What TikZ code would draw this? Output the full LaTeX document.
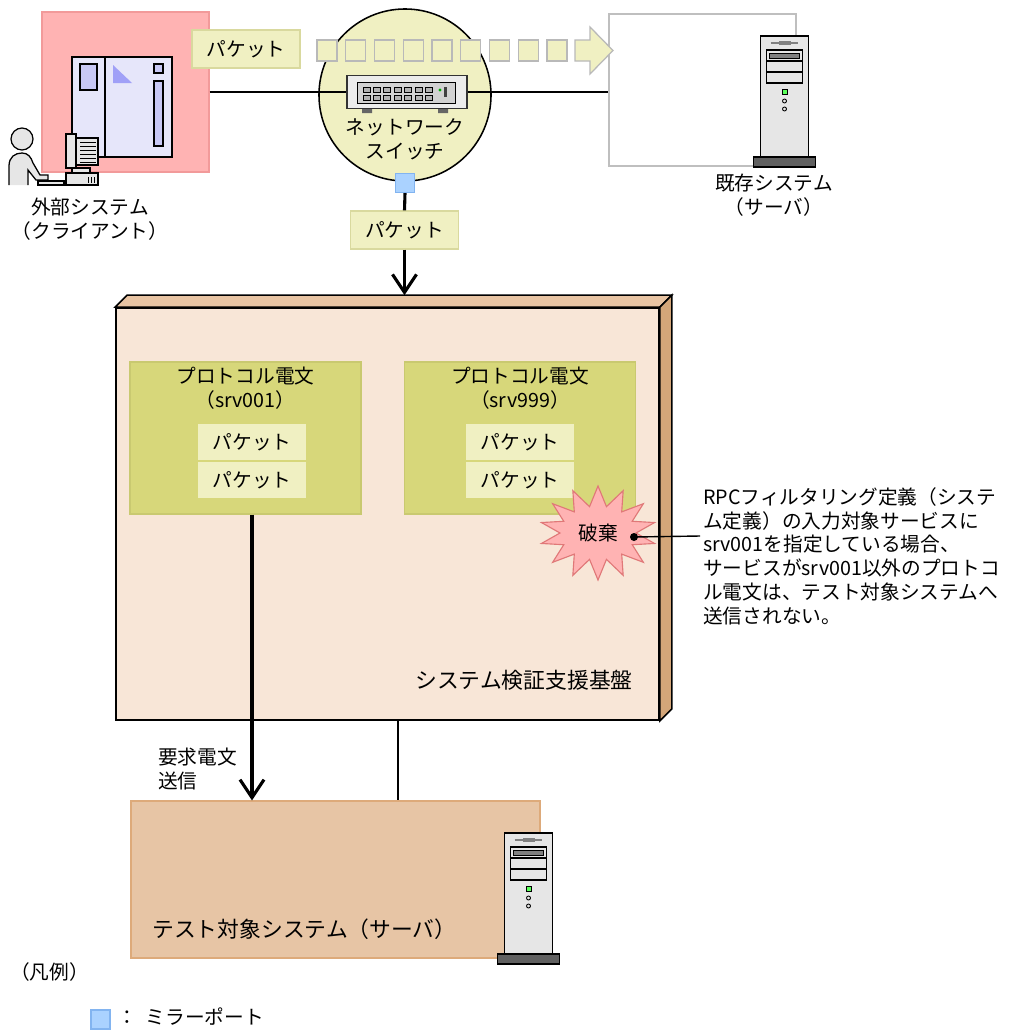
\documentclass[tikz,border=0pt]{standalone}
\usepackage{fontspec}
\setmainfont{Noto Sans CJK JP}
\usepackage{xcolor}
\usetikzlibrary{shapes, shapes.symbols, positioning, arrows.meta}

\definecolor{clientpink}{HTML}{FFB3B3}
\definecolor{clientedge}{HTML}{F29A9A}
\definecolor{hostblue}{HTML}{E6E6FA}
\definecolor{hostpanel}{HTML}{C8C8F5}
\definecolor{pktfill}{HTML}{F0F0C2}
\definecolor{pktedge}{HTML}{D9D99E}
\definecolor{msgfill}{HTML}{D7D77A}
\definecolor{msgedge}{HTML}{C9C970}
\definecolor{basefront}{HTML}{F8E6D7}
\definecolor{basetop}{HTML}{E8C4A3}
\definecolor{baseside}{HTML}{D4A679}
\definecolor{testfill}{HTML}{E7C5A5}
\definecolor{testedge}{HTML}{DDAA7A}
\definecolor{mirrorfill}{HTML}{AAD2FF}
\definecolor{mirroredge}{HTML}{82B4F0}
\definecolor{towergray}{HTML}{E6E6E6}
\definecolor{burstedge}{HTML}{E07878}

\tikzset{
  % server tower, origin at the bottom centre of its foot
  tower/.pic={
    \draw[line width=1.1pt, fill=towergray] (-24,-131) rectangle (24,-9);
    \draw[gray, line width=1pt] (-14,-124) -- (13,-124);
    \fill[gray] (-6,-126) rectangle (6,-122);
    \draw[line width=0.8pt, fill=towergray] (-18,-117) rectangle (18,-84);
    \draw[line width=0.8pt] (-18,-106) -- (18,-106) (-18,-95) -- (18,-95);
    \draw[line width=0.7pt, fill=gray] (-15,-114) rectangle (15,-109);
    \draw[line width=0.7pt, fill=green!65!white] (-2.5,-78) rectangle (2.5,-73);
    \draw[line width=0.6pt] (0,-66) circle (2) (0,-58) circle (2);
    \draw[line width=1.1pt, fill=gray!75!black] (-31,-10) rectangle (31,0);
  }
}

\begin{document}
\begin{tikzpicture}[x=0.025cm, y=-0.025cm,
    lbl/.style={font=\fontsize{14pt}{17pt}\selectfont, inner sep=0pt},
    biglbl/.style={font=\fontsize{15.5pt}{18pt}\selectfont, inner sep=0pt},
    pkt/.style={lbl, draw=pktedge, fill=pktfill, line width=0.8pt, minimum width=2.7cm, minimum height=0.95cm},
    inpkt/.style={lbl, fill=pktfill, minimum width=2.7cm, minimum height=0.9cm},
    msg/.style={draw=msgedge, fill=msgfill, line width=0.8pt, minimum width=5.775cm, minimum height=3.8cm},
    mirror/.style={draw=mirroredge, fill=mirrorfill, line width=0.8pt, minimum size=0.475cm, inner sep=0pt},
    stream/.style={draw=gray!55, fill=pktfill, line width=0.9pt},
    thick line/.style={line width=2.2pt},
    flow/.style={line width=2.2pt, -{Straight Barb[length=0.45cm, width=0.6cm]}}]

    \useasboundingbox (0,0) rectangle (1025,1032);

    % external client
    \node[draw=clientedge, fill=clientpink, line width=0.8pt, minimum width=4.175cm, minimum height=4cm] at (125.5,92) (client) {};
    \node[draw, fill=hostblue, line width=1pt, minimum size=2.5cm] at (122,107) (host) {};
    \draw[line width=1pt] (105,57) -- (105,157);
    \draw[line width=0.8pt, fill=hostpanel] (80,64) rectangle (97,90);
    \fill[hostpanel!80!blue] (113,65) -- (113,83) -- (132,83) -- cycle;
    \draw[line width=0.8pt, fill=hostpanel] (154,64) rectangle (163,73);
    \draw[line width=0.8pt, fill=hostpanel] (154,81) rectangle (163,146);

    % operator at the terminal
    \draw[line width=0.9pt, fill=towergray] (22,139) circle (11);
    \draw[line width=0.9pt, fill=towergray] (9,185) -- (9,166) .. controls (9,157) and (15,153) .. (22,153)
        .. controls (28,153) and (31,157) .. (33,163) -- (40,175) -- (48,175) -- (48,180) -- (36,180) -- (28,170) -- (28,185);
    \draw[line width=0.9pt, fill=towergray] (66,134) rectangle (76,168);
    \draw[line width=0.9pt, fill=towergray] (76,138) rectangle (98,165);
    \foreach \v in {142,146,...,162}
        \draw[line width=0.6pt] (80,\v) -- (96,\v);
    \draw[line width=0.9pt, fill=towergray] (72,168) rectangle (90,173);
    \draw[line width=0.9pt, fill=towergray] (66,173) rectangle (98,185);
    \foreach \v in {88,91,94}
        \draw[line width=0.6pt] (\v,177) -- (\v,183);
    \draw[line width=0.9pt, fill=towergray] (38,181) rectangle (64,185);

    \node[lbl, align=center] at (90,219) (clientlbl) {外部システム\\（クライアント）};

    % existing server
    \node[draw=gray!50, fill=white, line width=1.1pt, minimum width=4.675cm, minimum height=3.8cm] at (702.5,90) (existing) {};
    \pic at (784.5,167) {tower};
    \node[lbl, align=center] at (774,195.5) (existinglbl) {既存システム\\（サーバ）};

    % network switch
    \node[circle, draw, fill=pktfill, line width=1.1pt, minimum size=4.3cm] at (405,95) (switch) {};
    \node[draw=black!80, fill=gray!15, line width=1pt, minimum width=3cm, minimum height=0.825cm] at (407,92) (swbox) {};
    \draw[line width=0.7pt, fill=gray!35] (357,82) rectangle (455,103);
    \foreach \i in {0,...,6} {
        \draw[line width=0.5pt, fill=gray!60] ({363+10.4*\i},87) rectangle ++(7,5);
        \draw[line width=0.5pt, fill=gray!60] ({363+10.4*\i},95) rectangle ++(7,5);
    }
    \fill[green!70!black] (440,90) circle (1.6);
    \fill[black!75] (444,87) rectangle (447,97);
    \fill[black!60] (362,109) rectangle (372,113) (438,109) rectangle (448,113);
    \node[lbl, align=center] at (405,139.5) (switchlbl) {ネットワーク\\スイッチ};

    \draw[line width=1pt] (client.east |- swbox.west) to (swbox.west)
        (swbox.east) to (existing.west |- swbox.east);

    % packet stream towards the existing server
    \node[pkt] at (246,49) (pkttop) {パケット};
    \foreach \i in {0,...,8}
        \draw[stream] ({317+28.75*\i},40) rectangle ++(20,21);
    \draw[stream] (575,40) -- (590,40) -- (590,27) -- (613,50.5) -- (590,74) -- (590,61) -- (575,61) -- cycle;

    % mirror port and copied packets
    \node[mirror] at (405,183) (mport) {};
    \node[pkt] at (404.5,230) (pktcopy) {パケット};
    \draw[thick line] (mport.south) to (pktcopy.north);

    % verification platform
    \node[draw, fill=basefront, line width=1.1pt, minimum width=13.575cm, minimum height=10.3cm] at (387.5,514) (base) {};
    \coordinate (btl) at ([shift={(12,-12)}]base.north west);
    \coordinate (btr) at ([shift={(12,-12)}]base.north east);
    \coordinate (bbr) at ([shift={(12,-12)}]base.south east);
    \draw[line width=1.1pt, fill=basetop] (base.north west) -- (btl) -- (btr) -- (base.north east) -- cycle;
    \draw[line width=1.1pt, fill=baseside] (base.north east) -- (btr) -- (bbr) -- (base.south east) -- cycle;
    \draw[flow] (pktcopy.south) to (pktcopy.south |- btl);

    \node[msg] at (245.5,438) (msg1) {};
    \node[lbl, align=center] at (245.5,388.5) (msg1lbl) {プロトコル電文\\（srv001）};
    \node[inpkt] at (252,442) (pk11) {パケット};
    \node[inpkt] at (252,480) (pk12) {パケット};

    \node[msg] at (520,438) (msg2) {};
    \node[lbl, align=center] at (520,388.5) (msg2lbl) {プロトコル電文\\（srv999）};
    \node[inpkt] at (520,442) (pk21) {パケット};
    \node[inpkt] at (520,480) (pk22) {パケット};

    \node[lbl, starburst, starburst points=14, starburst point height=0.5cm, random starburst=0,
        draw=burstedge, fill=clientpink, line width=0.8pt, minimum width=2.9cm, minimum height=2.35cm] at (598,533) (burst) {};
    \node[lbl] at (598,533) (burstlbl) {破棄};

    \node[biglbl] at (524,680) (baselbl) {システム検証支援基盤};

    % note on the discarded message
    \node[lbl, anchor=north west, align=left] at (703,487) (note) {RPCフィルタリング定義（システ\\ム定義）の入力対象サービスに\\srv001を指定している場合、\\サービスがsrv001以外のプロトコ\\ル電文は、テスト対象システムへ\\送信されない。};
    \coordinate (dot) at (634,537);
    \coordinate (callend) at (700,536);
    \fill (dot) circle (4);
    \draw[line width=1pt] (dot) to (callend);

    % system under test
    \node[draw=testedge, fill=testfill, line width=0.8pt, minimum width=10.225cm, minimum height=3.925cm] at (335.5,879.5) (test) {};
    \pic at (528.5,964) {tower};
    \node[biglbl, anchor=west] at (152,929) (testlbl) {テスト対象システム（サーバ）};

    \draw[flow] (msg1.south -| pk12) to (test.north -| pk12);
    \node[lbl, anchor=north west, align=left] at (158,748) (sendlbl) {要求電文\\送信};
    \coordinate (link) at (398,0);
    \draw[line width=1pt] (base.south -| link) to (test.north -| link);

    % legend
    \node[lbl, anchor=west] at (10,972) (legend) {（凡例）};
    \node[mirror] at (100.5,1019.5) (legendport) {};
    \node[lbl, anchor=west] at (117,1017) (legendlbl) {：\hspace{0.45em}ミラーポート};
\end{tikzpicture}
\end{document}
